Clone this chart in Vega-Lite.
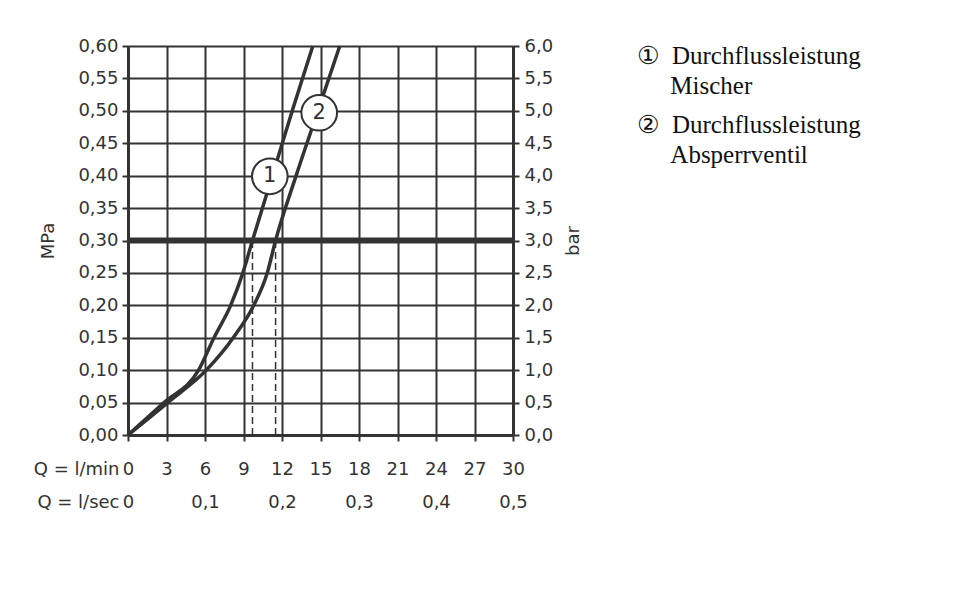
{
  "$schema": "https://vega.github.io/schema/vega-lite/v6.json",
  "width": 385,
  "height": 389,
  "autosize": {"type": "none"},
  "padding": {"left": 128, "top": 46, "right": 447, "bottom": 177},
  "background": "white",
  "config": {
    "view": {"stroke": null},
    "axis": {
      "labelFont": "DejaVu Sans",
      "labelFontSize": 18,
      "labelColor": "#333",
      "titleFont": "DejaVu Sans",
      "titleFontSize": 18,
      "titleFontWeight": "normal",
      "titleColor": "#333",
      "domainColor": "#333",
      "domainWidth": 3,
      "tickColor": "#333",
      "tickWidth": 2,
      "tickSize": 6,
      "gridColor": "#333",
      "gridWidth": 2,
      "gridOpacity": 1,
      "labelFlush": false,
      "labelOverlap": false
    }
  },
  "datasets": {
    "curves": [
      {"series": "1", "q": 0, "p": 0},
      {"series": "1", "q": 2.8, "p": 0.05},
      {"series": "1", "q": 5.5, "p": 0.10},
      {"series": "1", "q": 6.7, "p": 0.15},
      {"series": "1", "q": 8.0, "p": 0.20},
      {"series": "1", "q": 8.95, "p": 0.25},
      {"series": "1", "q": 9.7, "p": 0.30},
      {"series": "1", "q": 11.25, "p": 0.40},
      {"series": "1", "q": 12.8, "p": 0.50},
      {"series": "1", "q": 14.4, "p": 0.60},
      {"series": "2", "q": 0, "p": 0},
      {"series": "2", "q": 3.1, "p": 0.05},
      {"series": "2", "q": 6.1, "p": 0.10},
      {"series": "2", "q": 8.2, "p": 0.15},
      {"series": "2", "q": 9.8, "p": 0.20},
      {"series": "2", "q": 10.85, "p": 0.25},
      {"series": "2", "q": 11.5, "p": 0.30},
      {"series": "2", "q": 13.1, "p": 0.40},
      {"series": "2", "q": 14.8, "p": 0.50},
      {"series": "2", "q": 16.5, "p": 0.60}
    ],
    "dashed": [
      {"q": 9.7, "p0": 0, "p": 0.30},
      {"q": 11.5, "p0": 0, "p": 0.30}
    ],
    "ref": [{"p": 0.30}],
    "markers": [
      {"n": "1", "q": 11.05, "p": 0.399},
      {"n": "2", "q": 14.9, "p": 0.497}
    ]
  },
  "resolve": {"axis": {"x": "independent", "y": "independent"}},
  "layer": [
    {
      "data": {"name": "ref"},
      "mark": {"type": "rule", "color": "#333", "strokeWidth": 6},
      "encoding": {
        "y": {
          "field": "p", "type": "quantitative",
          "scale": {"domain": [0, 0.6]},
          "axis": {
            "orient": "right",
            "values": [0, 0.05, 0.1, 0.15, 0.2, 0.25, 0.3, 0.35, 0.4, 0.45, 0.5, 0.55, 0.6],
            "labelExpr": "replace(format(datum.value*10, '.1f'), '.', ',')",
            "grid": false,
            "labelPadding": 5,
            "title": "bar",
            "titleAngle": 270,
            "titlePadding": 30
          }
        }
      }
    },
    {
      "data": {"name": "dashed"},
      "mark": {"type": "rule", "color": "#333", "strokeWidth": 1.5, "strokeDash": [7, 4]},
      "encoding": {
        "x": {
          "field": "q", "type": "quantitative",
          "scale": {"domain": [0, 30]},
          "axis": {
            "orient": "bottom",
            "offset": 33,
            "values": [0, 6, 12, 18, 24, 30],
            "labelExpr": "datum.value == 0 ? '0' : replace(format(datum.value/60, '.1f'), '.', ',')",
            "domain": false,
            "ticks": false,
            "grid": false,
            "labelPadding": 25,
            "title": "Q = l/sec",
            "titleAlign": "right",
            "titleAnchor": "start",
            "titleX": -9,
            "titleY": 39,
            "titleBaseline": "alphabetic",
            "titleAngle": 0
          }
        },
        "y": {"field": "p0", "type": "quantitative", "axis": null},
        "y2": {"field": "p"}
      }
    },
    {
      "data": {"name": "curves"},
      "mark": {"type": "line", "strokeWidth": 3.5, "interpolate": "monotone"},
      "encoding": {
        "x": {
          "field": "q", "type": "quantitative",
          "scale": {"domain": [0, 30]},
          "axis": {
            "orient": "bottom",
            "values": [0, 3, 6, 9, 12, 15, 18, 21, 24, 27, 30],
            "grid": true,
            "labelPadding": 19,
            "title": "Q = l/min",
            "titleAlign": "right",
            "titleAnchor": "start",
            "titleX": -9,
            "titleY": 39,
            "titleBaseline": "alphabetic",
            "titleAngle": 0
          }
        },
        "y": {
          "field": "p", "type": "quantitative",
          "scale": {"domain": [0, 0.6]},
          "axis": {
            "orient": "left",
            "values": [0, 0.05, 0.1, 0.15, 0.2, 0.25, 0.3, 0.35, 0.4, 0.45, 0.5, 0.55, 0.6],
            "labelExpr": "replace(format(datum.value, '.2f'), '.', ',')",
            "grid": true,
            "labelPadding": 4,
            "title": "MPa",
            "titlePadding": 20
          }
        },
        "color": {
          "field": "series", "type": "nominal",
          "scale": {"range": ["#333", "#333"]},
          "legend": {
            "orient": "none",
            "legendX": 484,
            "legendY": -3,
            "title": null,
            "symbolOpacity": 0,
            "symbolSize": 0,
            "labelOffset": 0,
            "labelFont": "Liberation Serif, DejaVu Sans",
            "labelFontSize": 25,
            "labelColor": "#111",
            "labelLimit": 600,
            "rowPadding": 13,
            "labelExpr": "datum.label == '1' ? ['\u2460 \u00a0Durchflussleistung', '\u200b\u00a0\u00a0\u00a0\u00a0\u00a0\u200aMischer'] : ['\u2461 \u00a0Durchflussleistung', '\u200b\u00a0\u00a0\u00a0\u00a0\u00a0\u200aAbsperrventil']",
            "encode": {"labels": {"update": {"lineHeight": {"value": 30.5}}}}
          }
        }
      }
    },
    {
      "data": {"name": "markers"},
      "mark": {"type": "point", "filled": false, "fill": "white", "fillOpacity": 1, "stroke": "#333", "strokeWidth": 2, "size": 1270, "opacity": 1},
      "encoding": {
        "x": {"field": "q", "type": "quantitative", "axis": null},
        "y": {"field": "p", "type": "quantitative", "axis": null}
      }
    },
    {
      "data": {"name": "markers"},
      "mark": {"type": "text", "font": "DejaVu Sans", "fontSize": 21, "color": "#333", "baseline": "middle", "align": "center"},
      "encoding": {
        "x": {"field": "q", "type": "quantitative", "axis": null},
        "y": {"field": "p", "type": "quantitative", "axis": null},
        "text": {"field": "n"}
      }
    }
  ]
}
